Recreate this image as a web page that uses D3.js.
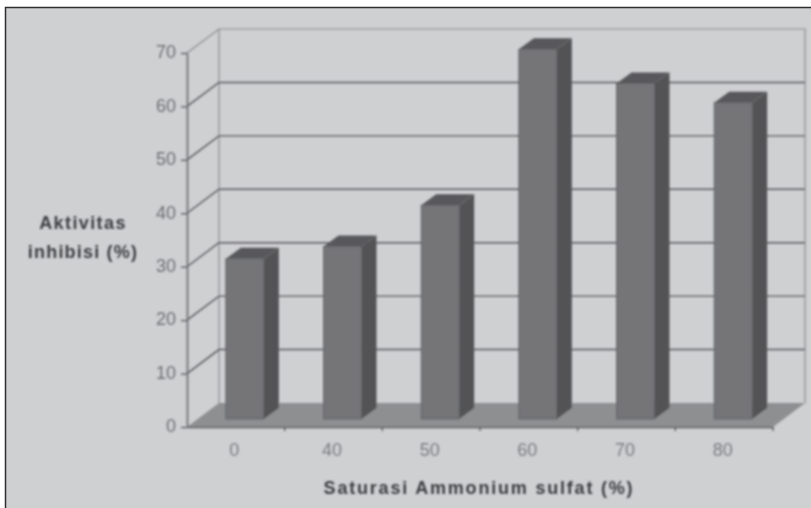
<!DOCTYPE html>
<html>
<head>
<meta charset="utf-8">
<script src="https://cdn.jsdelivr.net/npm/d3@7"></script>
<style>
    html, body { margin: 0; padding: 0; background: #fff; }
    svg { display: block; }
    text { font-family: "Liberation Sans", Arial, sans-serif; }
</style>
</head>
<body>
<svg id="chart"></svg>
<script>
(function () {
    'use strict';

    const categories = ['0', '40', '50', '60', '70', '80'];
    const values = [30, 32.3, 40, 69.2, 62.8, 59.2];
    const yTicks = [0, 10, 20, 30, 40, 50, 60, 70];

    const width = 811;
    const height = 508;

    const plot = ({ left: 187, right: 773, top: 53, bottom: 427 });
    const depth = ({ x: 32, y: 24 });    // wall offset of the 3D box
    const bar = ({ width: 38, shift: 9, rise: 8, dx: 15, dy: 11 });

    const x = d3.scaleBand()
        .domain(categories)
        .range([plot.left, plot.right]);

    const y = d3.scaleLinear()
        .domain([0, 70])
        .range([plot.bottom, plot.top]);

    const poly = pts => pts.map(p => p.join(',')).join(' ');

    const svg = d3.select('#chart')
        .attr('width', width)
        .attr('height', height)
        .attr('viewBox', [0, 0, width, height]);

    const defs = svg.append('defs');
    defs.append('filter').attr('id', 'soft')
        .attr('filterUnits', 'userSpaceOnUse')
        .attr('x', 0).attr('y', 0).attr('width', width).attr('height', height)
        .append('feGaussianBlur').attr('stdDeviation', 0.85);
    defs.append('filter').attr('id', 'softer')
        .attr('filterUnits', 'userSpaceOnUse')
        .attr('x', 0).attr('y', 0).attr('width', width).attr('height', height)
        .append('feGaussianBlur').attr('stdDeviation', 0.95);

    // page panel with its dark left and top edge
    svg.append('rect')
        .attr('x', 5).attr('y', 7)
        .attr('width', width - 5).attr('height', height - 7)
        .attr('fill', '#cfd0d2');
    svg.append('path')
        .attr('d', `M5.5,${height}V7.5H${width}`)
        .attr('fill', 'none')
        .attr('stroke', '#2e2e30')
        .attr('stroke-width', 1.5);

    const chart = svg.append('g').attr('filter', 'url(#soft)');

    // side wall and floor
    chart.append('polygon')
        .attr('points', poly([
            [plot.left, y(0)], [plot.left + depth.x, y(0) - depth.y],
            [plot.right + depth.x, y(0) - depth.y], [plot.right, y(0)]
        ]))
        .attr('fill', '#8e8f91');

    // back wall outline
    chart.append('path')
        .attr('d', `M${plot.left},${y(70)}L${plot.left + depth.x},${y(70) - depth.y}`
            + `H${plot.right + depth.x}V${y(0) - depth.y}`
            + `M${plot.left + depth.x},${y(70) - depth.y}V${y(0) - depth.y}`)
        .attr('fill', 'none')
        .attr('stroke', '#8c8d8f')
        .attr('stroke-width', 1.2);

    // gridlines run along the left wall and then the back wall
    chart.append('g').selectAll('path')
        .data(yTicks.filter(d => d > 0 && d < 70))
        .join('path')
        .attr('d', d => `M${plot.left},${y(d)}L${plot.left + depth.x},${y(d) - depth.y}H${plot.right + depth.x}`)
        .attr('fill', 'none')
        .attr('stroke', '#5a5b5d')
        .attr('stroke-width', 1.4);

    // bars: side, top, then front
    const bars = chart.append('g').selectAll('g')
        .data(categories.map((c, i) => ({ c, v: values[i] })))
        .join('g');

    const barLeft = d => x(d.c) + x.bandwidth() / 2 - bar.width / 2 + bar.shift;
    const barTop = d => y(d.v) - bar.rise;
    const barBase = y(0) - bar.rise;

    bars.append('polygon')
        .attr('points', d => {
            const r = barLeft(d) + bar.width;
            return poly([
                [r, barTop(d)], [r + bar.dx, barTop(d) - bar.dy],
                [r + bar.dx, barBase - bar.dy], [r, barBase]
            ]);
        })
        .attr('fill', '#525355');

    bars.append('polygon')
        .attr('points', d => {
            const l = barLeft(d);
            return poly([
                [l, barTop(d)], [l + bar.dx, barTop(d) - bar.dy],
                [l + bar.width + bar.dx, barTop(d) - bar.dy], [l + bar.width, barTop(d)]
            ]);
        })
        .attr('fill', '#58595b');

    bars.append('rect')
        .attr('x', barLeft)
        .attr('y', barTop)
        .attr('width', bar.width)
        .attr('height', d => barBase - barTop(d))
        .attr('fill', '#747578')
        .attr('stroke', '#5c5d5f')
        .attr('stroke-width', 0.8);

    // y axis
    const yAxis = chart.append('g')
        .attr('transform', `translate(${plot.left},0)`)
        .call(d3.axisLeft(y).tickValues(yTicks).tickSize(6).tickSizeOuter(0).tickPadding(5));
    yAxis.select('.domain').attr('stroke', '#717274').attr('stroke-width', 1.8);
    yAxis.selectAll('.tick line').attr('stroke', '#55565a').attr('stroke-width', 1.3);
    yAxis.selectAll('text')
        .attr('fill', '#6e6f72')
        .attr('y', -1)
        .style('font-family', '"Liberation Sans", Arial, sans-serif')
        .style('font-size', '18px');

    // x axis: labels at band centres, tick marks on band edges
    const xAxis = chart.append('g')
        .attr('transform', `translate(0,${plot.bottom})`)
        .call(d3.axisBottom(x).tickSize(0).tickSizeOuter(0).tickPadding(16));
    xAxis.select('.domain').attr('stroke', '#5f6062').attr('stroke-width', 1.6);
    xAxis.selectAll('text')
        .attr('fill', '#7c7d81')
        .attr('dx', -1.5)
        .style('font-family', '"Liberation Sans", Arial, sans-serif')
        .style('font-size', '18px');
    xAxis.selectAll('line.edge')
        .data(categories)
        .join('line')
        .attr('class', 'edge')
        .attr('x1', d => x(d) + x.bandwidth())
        .attr('x2', d => x(d) + x.bandwidth())
        .attr('y1', 0)
        .attr('y2', 4)
        .attr('stroke', '#55565a')
        .attr('stroke-width', 1.3);

    // axis titles
    const titles = svg.append('g')
        .attr('filter', 'url(#softer)')
        .attr('fill', '#3c3d41')
        .attr('font-size', 18)
        .attr('font-weight', 'bold')
        .attr('text-anchor', 'middle');

    titles.append('text').attr('x', 83).attr('y', 229)
        .attr('letter-spacing', 1.4).text('Aktivitas');
    titles.append('text').attr('x', 83).attr('y', 258)
        .attr('letter-spacing', 1.2).text('inhibisi (%)');
    titles.append('text').attr('x', 479).attr('y', 494)
        .attr('letter-spacing', 1.8).text('Saturasi Ammonium sulfat (%)');
})();
</script>
</body>
</html>
